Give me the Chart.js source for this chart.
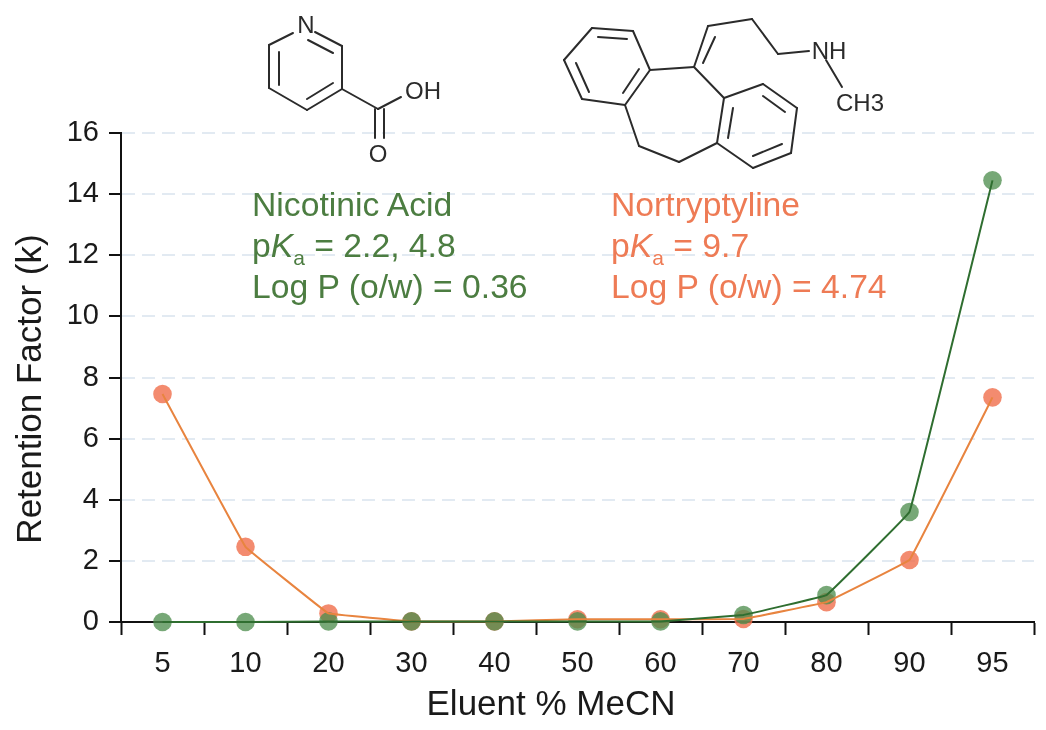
<!DOCTYPE html>
<html lang="en">
<head>
<meta charset="UTF-8">
<title>Retention Factor vs Eluent % MeCN</title>
<script src="https://cdn.jsdelivr.net/npm/chart.js"></script>
<style>
    html, body { margin: 0; background: #fff; }
    #wrap { position: relative; width: 1046px; height: 730px; overflow: hidden; font-family: "Liberation Sans", Arial, sans-serif; }
    #molecules { position: absolute; left: 0; top: 0; }
    .note { position: absolute; font-size: 33.7px; line-height: 41px; white-space: nowrap; }
    .note sub { font-size: 21px; line-height: 0; }
    #noteGreen { left: 252px; top: 184px; color: #4c7d41; }
    #noteOrange { left: 611px; top: 184px; color: #ee7b55; }
</style>
</head>
<body>
<div id="wrap">
    <canvas id="retentionChart" width="1046" height="730"></canvas>
    <svg id="molecules" width="1046" height="730"></svg>
    <div class="note" id="noteGreen">Nicotinic Acid<br>p<i>K</i><sub>a</sub> = 2.2, 4.8<br>Log P (o/w) = 0.36</div>
    <div class="note" id="noteOrange">Nortryptyline<br>p<i>K</i><sub>a</sub> = 9.7<br>Log P (o/w) = 4.74</div>
</div>

<script>
    // values
    const categories = ['5', '10', '20', '30', '40', '50', '60', '70', '80', '90', '95'];
    const nicotinicAcid = [0.0, 0.0, 0.02, 0.02, 0.02, 0.02, 0.02, 0.23, 0.88, 3.6, 14.45];
    const nortriptyline = [7.46, 2.46, 0.28, 0.02, 0.02, 0.09, 0.09, 0.1, 0.65, 2.03, 7.35];
    const yTicks = [0, 2, 4, 6, 8, 10, 12, 14, 16];
    const xTitle = 'Eluent % MeCN';
    const yTitle = 'Retention Factor (k)';

    // structure drawings, [x1, y1, x2, y2] in page pixels
    const nicotinicBonds = [
        [293, 33, 269, 45], [269, 45, 269, 88], [269, 88, 307, 110], [307, 110, 342, 89],
        [342, 89, 342, 46], [342, 46, 315, 32], [279, 52, 279, 85], [307, 99, 333, 83],
        [308, 40, 333, 53], [342, 89, 378, 109], [378, 109, 401, 97],
        [375, 109, 375, 138], [384, 109, 384, 138]
    ];
    const nortriptylineBonds = [
        [592, 28, 633, 31], [633, 31, 650, 70], [650, 70, 625, 105], [625, 105, 582, 99],
        [582, 99, 564, 60], [564, 60, 592, 28], [598, 37, 627, 39], [639, 69, 623, 93],
        [576, 63, 589, 92], [650, 70, 694, 67], [694, 67, 708, 26], [703, 63, 715, 37],
        [708, 26, 752, 19], [752, 19, 778, 54], [778, 54, 809, 51], [826, 60, 842, 87],
        [694, 67, 724, 98], [724, 98, 763, 84], [763, 84, 797, 108], [797, 108, 791, 153],
        [791, 153, 753, 168], [753, 168, 717, 143], [717, 143, 724, 98], [763, 96, 785, 112],
        [782, 144, 753, 156], [728, 138, 733, 108], [625, 105, 639, 146], [639, 146, 679, 162],
        [679, 162, 717, 143]
    ];
    const atomLabels = [
        ['N', 306, 24], ['OH', 423, 90], ['O', 378, 153], ['NH', 829, 50], ['CH3', 860, 102]
    ];

    const svg = document.getElementById('molecules');
    const svgNS = 'http://www.w3.org/2000/svg';
    nicotinicBonds.concat(nortriptylineBonds).forEach(b => {
        const line = document.createElementNS(svgNS, 'line');
        line.setAttribute('x1', b[0]);
        line.setAttribute('y1', b[1]);
        line.setAttribute('x2', b[2]);
        line.setAttribute('y2', b[3]);
        line.setAttribute('stroke', '#2b2b2b');
        line.setAttribute('stroke-width', '2');
        line.setAttribute('stroke-linecap', 'round');
        svg.appendChild(line);
    });
    atomLabels.forEach(a => {
        const text = document.createElementNS(svgNS, 'text');
        text.setAttribute('x', a[1]);
        text.setAttribute('y', a[2]);
        text.setAttribute('text-anchor', 'middle');
        text.setAttribute('dominant-baseline', 'central');
        text.setAttribute('font-size', '24');
        text.setAttribute('font-family', '"Liberation Sans", Arial, sans-serif');
        text.setAttribute('fill', '#2b2b2b');
        text.textContent = a[0];
        svg.appendChild(text);
    });

    // axis titles sit off the plot centre in the reference, so place them by hand
    const axisTitles = {
        id: 'axisTitles',
        afterDraw(chart) {
            const ctx = chart.ctx;
            ctx.save();
            ctx.fillStyle = '#1a1a1a';
            ctx.font = '35px "Liberation Sans"';
            ctx.textAlign = 'center';
            ctx.textBaseline = 'middle';
            ctx.fillText(xTitle, 551, 705);
            ctx.translate(31, 389);
            ctx.rotate(-Math.PI / 2);
            ctx.fillText(yTitle, 0, 0);
            ctx.restore();
        }
    };

    // points go in their own datasets so the lines can lie on top of them
    function pointSet(label, values, fill) {
        return {
            label: label,
            data: values,
            showLine: false,
            pointBackgroundColor: fill,
            pointBorderWidth: 0,
            pointRadius: 9.3,
            clip: false,
            order: label === 'Nicotinic Acid' ? 3 : 4
        };
    }
    function lineSet(label, values, color) {
        return {
            label: label,
            data: values,
            borderColor: color,
            borderWidth: 2,
            tension: 0.03,
            pointRadius: 0,
            clip: false,
            order: label === 'Nicotinic Acid' ? 1 : 2
        };
    }

    new Chart(document.getElementById('retentionChart').getContext('2d'), {
        type: 'line',
        data: {
            labels: categories,
            datasets: [
                pointSet('Nicotinic Acid', nicotinicAcid, 'rgba(76, 140, 76, 0.76)'),
                pointSet('Nortriptyline', nortriptyline, 'rgba(240, 110, 75, 0.8)'),
                lineSet('Nicotinic Acid', nicotinicAcid, '#2f6e30'),
                lineSet('Nortriptyline', nortriptyline, '#e8843f')
            ]
        },
        plugins: [axisTitles],
        options: {
            responsive: false,
            animation: false,
            layout: { padding: { top: 133, right: 12, left: 0, bottom: 0 } },
            plugins: { legend: { display: false }, tooltip: { enabled: false } },
            scales: {
                x: {
                    offset: true,
                    afterFit: scale => { scale.height = 108; },
                    border: { color: '#111', width: 2 },
                    grid: {
                        offset: true,
                        drawOnChartArea: false,
                        tickColor: '#111',
                        tickWidth: 2,
                        tickLength: 13
                    },
                    ticks: {
                        color: '#1a1a1a',
                        font: { family: '"Liberation Sans"', size: 29 },
                        padding: 12,
                        maxRotation: 0,
                        autoSkip: false
                    }
                },
                y: {
                    min: 0,
                    max: 16,
                    afterFit: scale => { scale.width = 121; },
                    afterBuildTicks: scale => { scale.ticks = yTicks.map(v => ({ value: v })); },
                    border: { color: '#111', width: 2, dash: [13, 7] },
                    grid: {
                        color: '#e2eaf2',
                        lineWidth: 2,
                        tickBorderDash: [],
                        tickColor: '#111',
                        tickWidth: 2,
                        tickLength: 12
                    },
                    ticks: {
                        color: '#1a1a1a',
                        font: { family: '"Liberation Sans"', size: 29 },
                        padding: 10
                    }
                }
            }
        }
    });
</script>
</body>
</html>
